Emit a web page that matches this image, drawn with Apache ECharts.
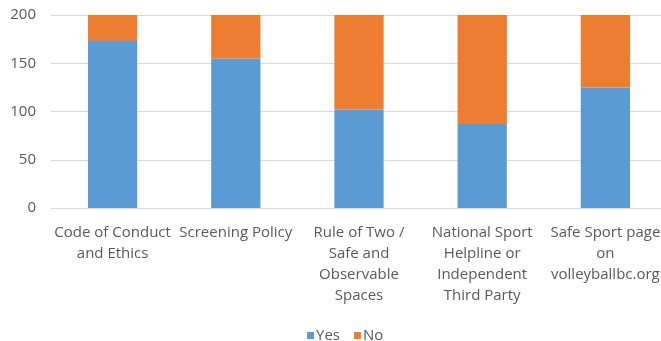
<!DOCTYPE html>
<html>
<head>
<meta charset="utf-8">
<script src="https://cdn.jsdelivr.net/npm/echarts@6/dist/echarts.min.js"></script>
<style>
  html, body { margin: 0; padding: 0; background: #fff; overflow: hidden; }
  /* plot area runs slightly past the right edge of the view */
  #chart { width: 667px; height: 341px; }
</style>
</head>
<body>
<div id="chart"></div>
<script>
// Safe Sport policy awareness: Yes / No responses per item
const categories = [
  'Code of Conduct\nand Ethics',
  'Screening Policy',
  'Rule of Two /\nSafe and\nObservable\nSpaces',
  'National Sport\nHelpline or\nIndependent\nThird Party',
  'Safe Sport page\non\nvolleyballbc.org'
];
const yesValues = [173, 155, 102, 87, 125];
const noValues = [27, 45, 98, 113, 75];
const yTicks = [0, 50, 100, 150, 200];

const FONT = 'Open Sans';
const TEXT = '#595959';

const chart = echarts.init(document.getElementById('chart'), null, { renderer: 'canvas' });
chart.setOption({
  animation: false,
  textStyle: { fontFamily: FONT },
  grid: { left: 51, top: 15, right: 0, bottom: 133, containLabel: false },
  legend: {
    data: ['Yes', 'No'],
    left: 302,
    top: 323,
    itemWidth: 7,
    itemHeight: 7,
    itemGap: 14,
    icon: 'rect',
    textStyle: { fontFamily: FONT, fontSize: 15, color: TEXT, padding: [0, 0, 0, -3] }
  },
  xAxis: {
    type: 'category',
    data: categories,
    axisTick: { show: false },
    axisLine: { lineStyle: { color: '#D9D9D9' } },
    axisLabel: {
      interval: 0,
      margin: 14,
      fontFamily: FONT,
      fontSize: 15,
      lineHeight: 21,
      color: TEXT,
      align: 'center'
    }
  },
  yAxis: {
    type: 'value',
    min: yTicks[0],
    max: yTicks[yTicks.length - 1],
    interval: 50,
    axisLine: { show: false },
    axisTick: { show: false },
    splitLine: { lineStyle: { color: '#D9D9D9' } },
    axisLabel: { fontFamily: FONT, fontSize: 15, color: TEXT, margin: 15 }
  },
  series: [
    {
      name: 'Yes',
      type: 'bar',
      stack: 'total',
      data: yesValues,
      barWidth: '40%',
      itemStyle: { color: '#5B9BD5' }
    },
    {
      name: 'No',
      type: 'bar',
      stack: 'total',
      data: noValues,
      barWidth: '40%',
      itemStyle: { color: '#ED7D31' }
    }
  ]
});
</script>
</body>
</html>
